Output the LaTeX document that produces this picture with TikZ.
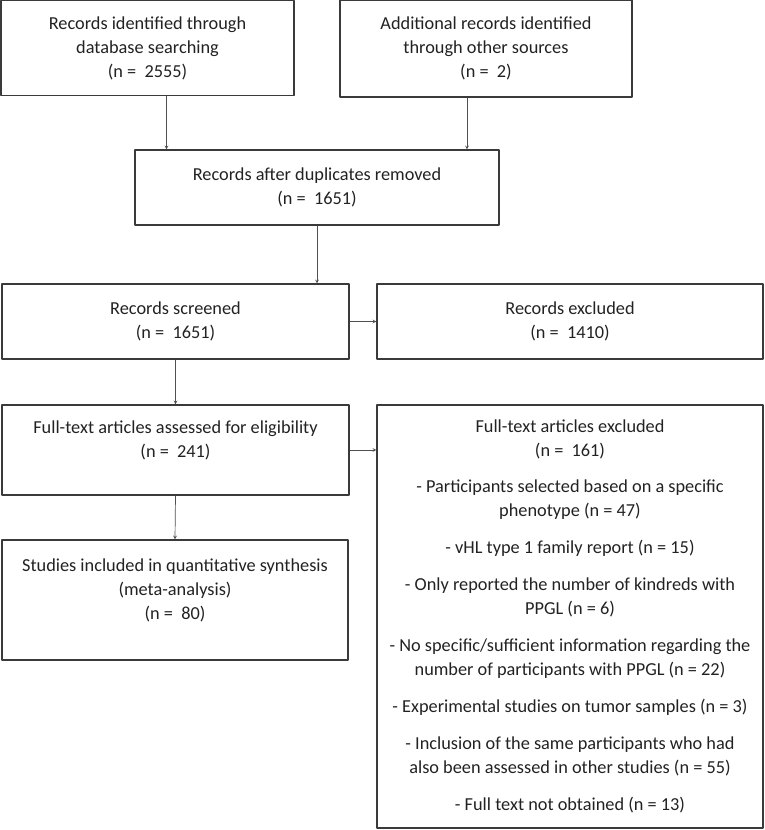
\documentclass[tikz,border=0pt]{standalone}
\usepackage{fontspec}
\setmainfont{Carlito}
\definecolor{boxline}{HTML}{3A3A3A}
\definecolor{arrline}{HTML}{505050}
\definecolor{txt}{HTML}{222222}
\begin{document}
\begin{tikzpicture}[x=1pt, y=-1pt, >=stealth, line join=round,
	font=\fontsize{18.3}{24}\selectfont,
	box/.style={draw=boxline, line width=1.2pt, inner sep=0pt, align=center, text=txt},
	link/.style={->, draw=arrline, line width=0.7pt}]
	\useasboundingbox (0,0) rectangle (764,830);
	% top row
	\node[box, minimum width=293pt, minimum height=95pt] (ident) at (147.5,48)
		{Records identified through\\database searching\\(n =~ 2555)};
	\node[box, minimum width=292pt, minimum height=97pt] (other) at (486,48.5)
		{Additional records identified\\through other sources\\(n =~ 2)};
	\node[box, minimum width=364pt, minimum height=75pt] (dupl) at (317,187.5)
		{Records after duplicates removed\\(n =~ 1651)};
	% screening
	\node[box, minimum width=347pt, minimum height=75pt] (screen) at (175.5,321.5)
		{Records screened\\(n =~ 1651)};
	\node[box, minimum width=386pt, minimum height=75pt] (excl) at (570,321.5)
		{Records excluded\\(n =~ 1410)};
	% eligibility
	\node[box, minimum width=347pt, minimum height=90pt] (full) at (175.5,450)
		{Full-text articles assessed for eligibility\\(n =~ 241)\\[-10pt]\strut};
	\node[box, minimum width=386pt, minimum height=423pt] (fullexcl) at (570,616.5)
		{Full-text articles excluded\\(n =~ 161)\\[12pt]
		- Participants selected based on a specific\\phenotype (n = 47)\\[13pt]
		- vHL type 1 family report (n = 15)\\[13pt]
		- Only reported the number of kindreds with\\PPGL (n = 6)\\[13pt]
		- No specific/sufficient information regarding the\\number of participants with PPGL (n = 22)\\[13pt]
		- Experimental studies on tumor samples (n = 3)\\[13pt]
		- Inclusion of the same participants who had\\also been assessed in other studies (n = 55)\\[13pt]
		- Full text not obtained (n = 13)};
	% included
	\node[box, minimum width=346pt, minimum height=120pt] (incl) at (175,600)
		{Studies included in quantitative synthesis\\(meta-analysis)\\(n =~ 80)\\[-10pt]\strut};
	% connectors
	\draw[link] ([xshift=19pt]ident.south) -- ([xshift=19pt]ident.south |- dupl.north);
	\draw[link] ([xshift=-19pt]other.south) -- ([xshift=-19pt]other.south |- dupl.north);
	\draw[link] (dupl.south) -- (dupl.south |- screen.north);
	\draw[link] (screen.east) -- (excl.west);
	\draw[link] (screen.south) -- (full.north);
	\draw[link] (full.east) -- (full.east -| fullexcl.west);
	\draw[link] (full.south) -- (incl.north);
\end{tikzpicture}
\end{document}
